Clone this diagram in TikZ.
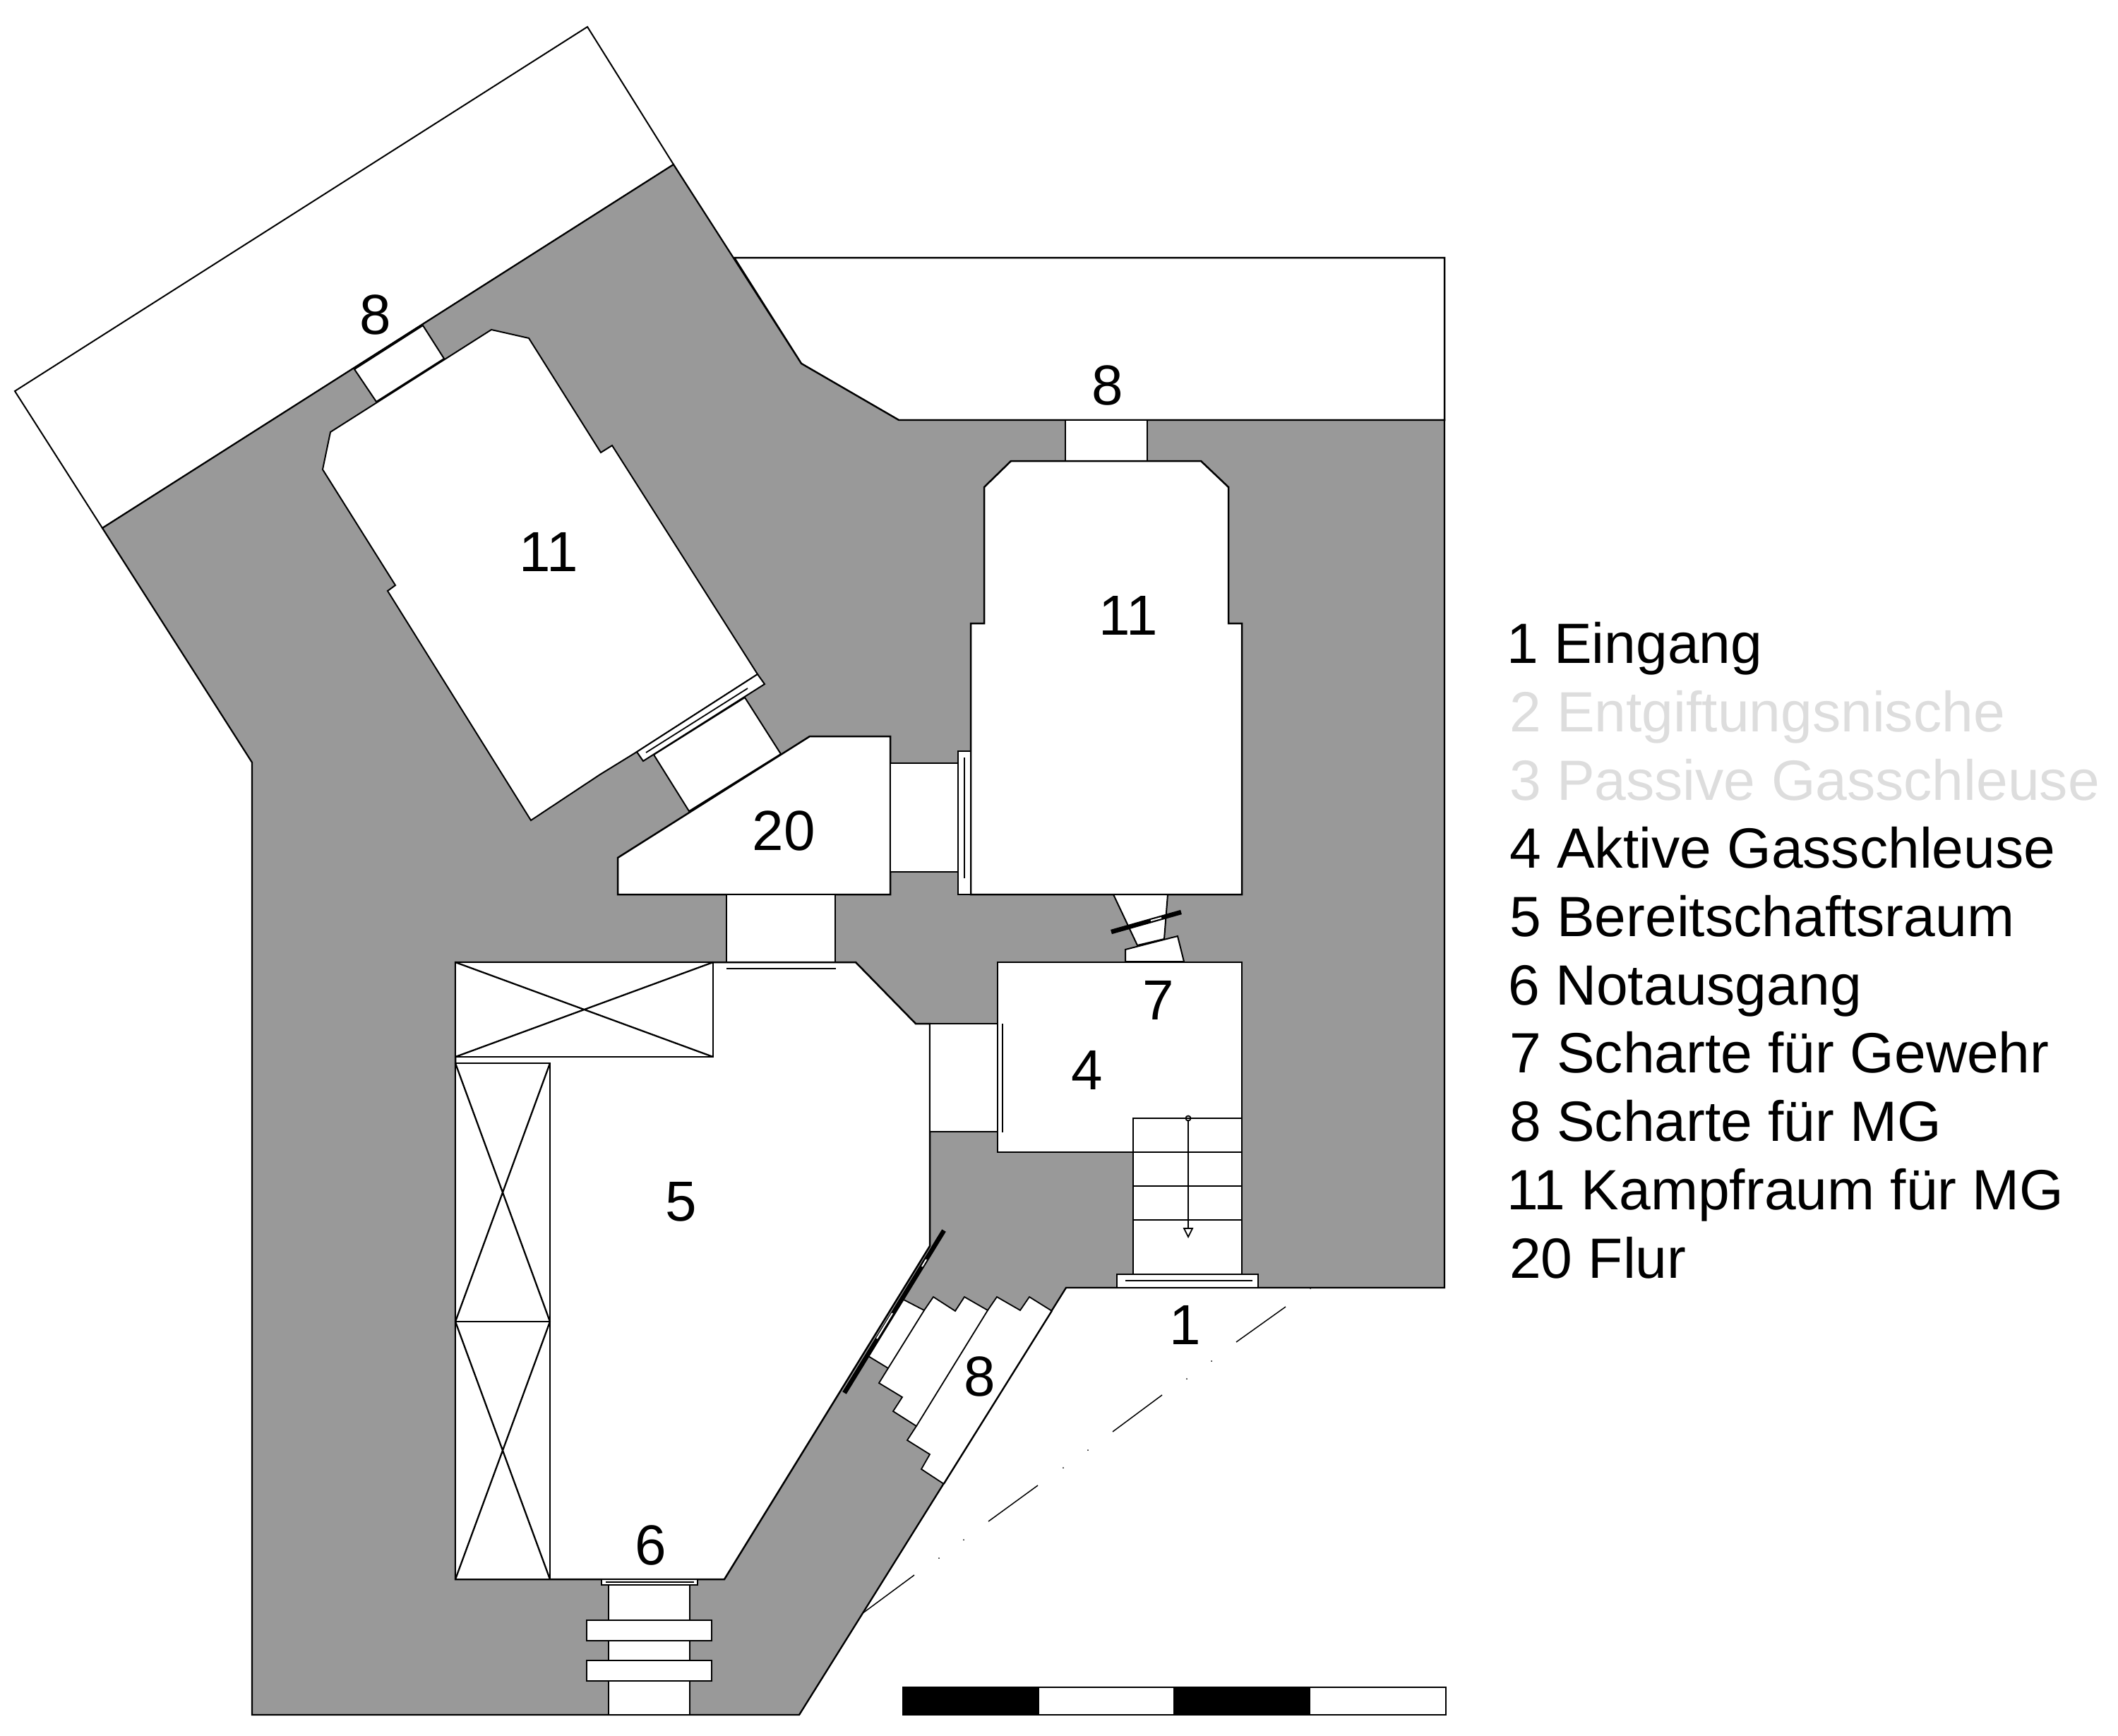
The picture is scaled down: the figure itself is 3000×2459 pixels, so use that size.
\documentclass[tikz,border=0pt]{standalone}
\usepackage{fontspec}
\setmainfont{Liberation Sans}
\definecolor{wallgrey}{HTML}{999999}
\definecolor{fadedtext}{HTML}{DDDDDD}
\tikzset{
  wall/.style={draw=black,line width=2.2pt,fill=wallgrey,line join=miter},
  room/.style={draw=black,line width=2.5pt,fill=white,line join=miter},
  thin/.style={draw=black,line width=2.3pt},
  hair/.style={draw=black,line width=1.8pt},
  bar/.style={draw=black,line width=6.5pt},
  slit/.style={draw=white,line width=2pt},
  num/.style={font=\fontsize{80}{80}\selectfont,inner sep=0pt,anchor=base},
  legend/.style={font=\fontsize{80.4}{80}\selectfont,inner sep=0pt,anchor=base west},
  legendoff/.style={legend,text=fadedtext}
}
\begin{document}
\begin{tikzpicture}[x=1pt,y=-1pt]
\useasboundingbox (0,0) rectangle (3000,2459);
% outer parts
\draw[room,line width=2pt] (21,554) -- (832,38) -- (954,233) -- (145,748) -- cycle;
\draw[room] (1040,365) -- (2046,365) -- (2046,595) -- (1273,595) -- (1135,515) -- cycle;
\draw[wall] (145,748) -- (954,233) -- (1135,515) -- (1273,595) -- (2046,595) -- (2046,1824) -- (1510,1824) -- (1132,2429) -- (357,2429) -- (357,1080) -- cycle;
% embrasure NW
\draw[room,line width=2pt] (502,523) -- (599,461) -- (629,508) -- (533,569) -- cycle;
% room 11 left
\draw[room,line width=2pt] (468,612) -- (696,467) -- (749,479) -- (851,641) -- (867,631) -- (1073,955) -- (902,1065) -- (850,1097) -- (752,1162) -- (549,837) -- (560,829) -- (457,665) -- cycle;
% embrasure N
\draw[room] (1509,595) rectangle (1625,653);
% room 11 right
\draw[room] (1432,653) -- (1701,653) -- (1740,690) -- (1740,883) -- (1759,883) -- (1759,1267) -- (1375,1267) -- (1375,883) -- (1394,883) -- (1394,690) -- cycle;
% passage 20 - 11 left
\draw[room,line width=2pt] (926,1069) -- (1055,988) -- (1106,1068) -- (976,1149) -- cycle;
\draw[room,line width=2pt] (902,1065) -- (911,1078) -- (1083,969) -- (1073,955) -- cycle;
\draw[hair] (915,1066) -- (1059,975);
% room 20
\draw[room] (875,1215) -- (1147,1043) -- (1261,1043) -- (1261,1267) -- (875,1267) -- cycle;
% passage 20 - 11 right
\draw[room] (1261,1081) rectangle (1357,1235);
\draw[room] (1357,1064) rectangle (1375,1267);
\draw[thin] (1366,1073) -- (1366,1244);
% passage 20 - 5
\draw[room] (1029,1267) rectangle (1183,1363);
% room 5
\draw[room] (645,1363) -- (1212,1363) -- (1297,1450) -- (1317,1450) -- (1317,1765) -- (1026,2237) -- (645,2237) -- cycle;
\draw[thin] (1029,1372) -- (1184,1372);
% passage 5 - 4
\draw[room] (1317,1450) rectangle (1413,1603);
% shelves
\draw[room] (645,1363) rectangle (1010,1497);
\draw[thin] (645,1363) -- (1010,1497) (645,1497) -- (1010,1363);
\draw[room] (645,1506) rectangle (779,2237);
\draw[thin] (645,1872) -- (779,1872);
\draw[thin] (645,1506) -- (779,1872) (779,1506) -- (645,1872);
\draw[thin] (645,1872) -- (779,2237) (779,1872) -- (645,2237);
% emergency exit
\draw[room] (862,2245) rectangle (977,2429);
\draw[room] (852,2237) rectangle (988,2245);
\draw[thin] (858,2241) -- (983,2241);
\draw[room] (831,2295) rectangle (1008,2324);
\draw[room] (831,2352) rectangle (1008,2381);
% rifle embrasure
\draw[room,line width=2pt] (1577,1267) -- (1654,1267) -- (1649,1330) -- (1611,1339) -- cycle;
\draw[room,line width=2pt] (1594,1362) -- (1594,1345) -- (1668,1326) -- (1677,1362) -- cycle;
% room 4
\draw[room] (1413,1363) rectangle (1759,1632);
\draw[thin] (1420,1450) -- (1420,1604);
% stairs
\draw[room] (1605,1584) rectangle (1759,1805);
\draw[room] (1582,1805) rectangle (1782,1824);
\draw[thin] (1594,1814) -- (1774,1814);
\draw[thin] (1605,1632) -- (1759,1632) (1605,1680) -- (1759,1680) (1605,1728) -- (1759,1728);
\draw[hair] (1683,1587) -- (1683,1740);
\draw[hair] (1683,1584) circle (3.5);
\draw[hair,fill=white] (1677,1740) -- (1689,1740) -- (1683,1752) -- cycle;
% MG embrasure SW
\draw[draw=none,fill=white] (1510,1824) -- (1490,1857) -- (1337,2102) -- (1305,2081) -- (1317,2060) -- (1285,2040) -- (1298,2020) -- (1265,1999) -- (1278,1979) -- (1245,1959) -- (1258,1938) -- (1230,1921) -- (1280,1841) -- (1309,1856) -- (1322,1837) -- (1353,1857) -- (1366,1837) -- (1399,1856) -- (1412,1837) -- (1445,1856) -- (1458,1837) -- (1490,1857) -- cycle;
\draw[hair] (1230,1921) -- (1258,1938) -- (1245,1959) -- (1278,1979) -- (1265,1999) -- (1298,2020) -- (1285,2040) -- (1317,2060) -- (1305,2081) -- (1337,2102);
\draw[hair] (1280,1841) -- (1309,1856) -- (1322,1837) -- (1353,1857) -- (1366,1837) -- (1399,1856) -- (1412,1837) -- (1445,1856) -- (1458,1837) -- (1490,1857);
\draw[hair] (1309,1856) -- (1258,1938) (1399,1856) -- (1298,2020) (1490,1857) -- (1337,2102);
\draw[hair] (1510,1824) -- (1132,2429);
% steel plates
\draw[bar] (1574,1320) -- (1673,1292);
\draw[slit] (1630,1304) -- (1645,1300);
\draw[bar] (1337,1743) -- (1196,1973);
\draw[slit] (1312,1784) -- (1306,1794);
\draw[slit] (1264,1860) -- (1242,1896);
% dashed trace
\draw[hair,line width=1.5pt] (1821,1851) -- (1751,1901) (1646,1976) -- (1576,2028) (1470,2104) -- (1400,2155) (1295,2231) -- (1222,2285);
\fill (1856,1825) circle (1) (1716,1928) circle (1) (1681,1953) circle (1) (1541,2054) circle (1) (1506,2079) circle (1) (1365,2181) circle (1) (1330,2207) circle (1);
% wall line on the entrance side
\draw[thin] (1510,1824) -- (2046,1824);
% scale bar
\draw[room] (1279,2390) rectangle (2048,2429);
\fill[black] (1279,2390) rectangle (1472,2429);
\fill[black] (1662,2390) rectangle (1856,2429);
% room numbers
\node[num] (n8a) at (532,473) {8};
\node[num] (n8b) at (1569,573) {8};
\node[num] (n11a) at (777,809) {11};
\node[num] (n11b) at (1598,899) {11};
\node[num] (n20) at (1110,1204) {20};
\node[num] (n7) at (1641,1444) {7};
\node[num] (n4) at (1540,1543) {4};
\node[num] (n5) at (965,1729) {5};
\node[num] (n1) at (1679,1904) {1};
\node[num] (n8c) at (1388,1977) {8};
\node[num] (n6) at (922,2216) {6};
% legend
\node[legend] (l1) at (2134,939) {1 Eingang};
\node[legendoff] (l2) at (2138,1036) {2 Entgiftungsnische};
\node[legendoff] (l3) at (2138,1133) {3 Passive Gasschleuse};
\node[legend] (l4) at (2138,1229) {4 Aktive Gasschleuse};
\node[legend] (l5) at (2138,1326) {5 Bereitschaftsraum};
\node[legend] (l6) at (2136,1423) {6 Notausgang};
\node[legend] (l7) at (2138,1519) {7 Scharte für Gewehr};
\node[legend] (l8) at (2138,1616) {8 Scharte für MG};
\node[legend] (l11) at (2134,1713) {11 Kampfraum für MG};
\node[legend] (l20) at (2138,1810) {20 Flur};
\end{tikzpicture}
\end{document}
